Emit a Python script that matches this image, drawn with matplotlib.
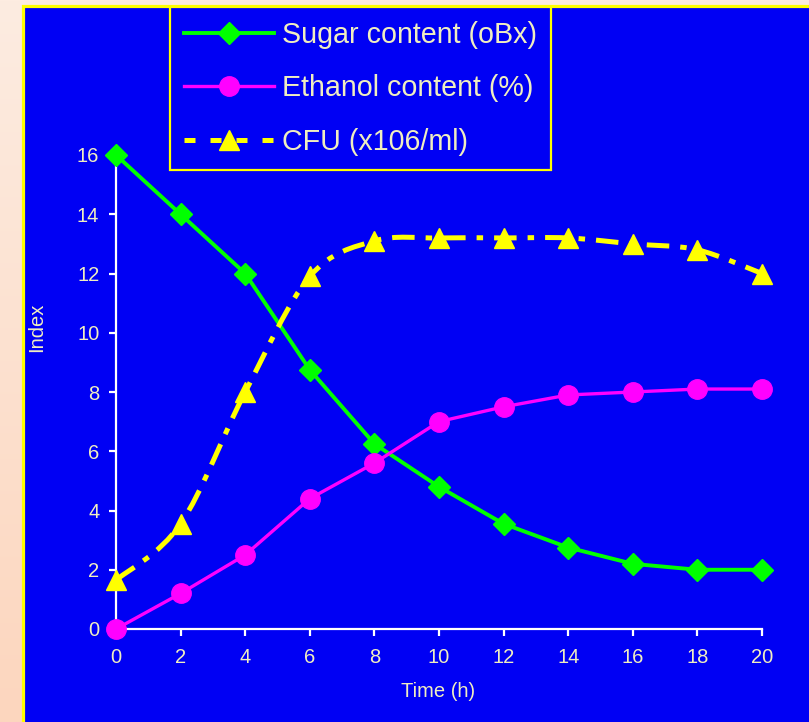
import numpy as np
import matplotlib
matplotlib.use("Agg")
import matplotlib.pyplot as plt
from matplotlib.path import Path
from matplotlib.patches import PathPatch, Rectangle
from matplotlib.lines import Line2D

# ---- data ----
time_h = [0, 2, 4, 6, 8, 10, 12, 14, 16, 18, 20]
sugar = [16, 14, 12, 8.75, 6.25, 4.8, 3.55, 2.75, 2.2, 2.0, 2.0]
ethanol = [0, 1.2, 2.5, 4.4, 5.6, 7.0, 7.5, 7.9, 8.0, 8.1, 8.1]
cfu = [1.65, 3.55, 8.0, 11.9, 13.1, 13.2, 13.2, 13.2, 13.0, 12.8, 12.0]
series_labels = ["Sugar content (oBx)", "Ethanol content (%)", "CFU (x106/ml)"]
x_ticks = [0, 2, 4, 6, 8, 10, 12, 14, 16, 18, 20]
y_ticks = [0, 2, 4, 6, 8, 10, 12, 14, 16]
x_label = "Time (h)"
y_label = "Index"

# ---- style ----
W, H = 809, 722
BLUE = "#0000F4"
YELLOW = "#FFFF00"
GREEN = "#00FF00"
MAGENTA = "#FF00FF"
TXT = "#F0EEC0"
FONT = "Liberation Sans"
plt.rcParams["font.family"] = [FONT, "DejaVu Sans"]

fig = plt.figure(figsize=(W / 100, H / 100), dpi=100)

# peach gradient background
bg = fig.add_axes([0, 0, 1, 1], zorder=-10)
grad = np.linspace(0, 1, 256).reshape(-1, 1)
top = np.array([253, 236, 225]) / 255
bot = np.array([252, 214, 190]) / 255
img = top[None, None, :] * (1 - grad[:, :, None]) + bot[None, None, :] * grad[:, :, None]
bg.imshow(img, aspect="auto", extent=[0, 1, 0, 1], origin="upper")
bg.set_axis_off()

# blue panel with yellow border
panel = Rectangle((22.5 / W, -0.1), 1.2, 1 - 5.5 / H + 0.1, transform=fig.transFigure,
                  facecolor=BLUE, edgecolor=YELLOW, linewidth=2.3, zorder=-5)
fig.patches.append(panel)

ax = fig.add_axes([116 / W, 1 - 629 / H, (762 - 116) / W, (629 - 155) / H])
ax.set_facecolor("none")
ax.set_xlim(0, 20)
ax.set_ylim(0, 16)

ax.plot(time_h, sugar, color=GREEN, lw=2.8, marker="D", ms=11, mec=GREEN, mfc=GREEN, zorder=3)
ax.plot(time_h, ethanol, color=MAGENTA, lw=2.4, marker="o", ms=14, mec=MAGENTA, mfc=MAGENTA, zorder=3)

# smoothed dashed CFU curve (Catmull-Rom -> cubic Bezier)
xs = np.array(time_h, float)
ys = np.array(cfu, float)
verts = [(xs[0], ys[0])]
codes = [Path.MOVETO]
n = len(xs)
for i in range(n - 1):
    p0 = np.array([xs[max(i - 1, 0)], ys[max(i - 1, 0)]])
    p1 = np.array([xs[i], ys[i]])
    p2 = np.array([xs[i + 1], ys[i + 1]])
    p3 = np.array([xs[min(i + 2, n - 1)], ys[min(i + 2, n - 1)]])
    c1 = p1 + (p2 - p0) / 6.0
    c2 = p2 - (p3 - p1) / 6.0
    verts += [tuple(c1), tuple(c2), tuple(p2)]
    codes += [Path.CURVE4] * 3
cfu_ls = (0, (4.5, 2.2, 1.3, 2.2))
patch = PathPatch(Path(verts, codes), facecolor="none", edgecolor=YELLOW, lw=3.6,
                  linestyle=cfu_ls, capstyle="butt", zorder=4)
ax.add_patch(patch)
ax.plot(time_h, cfu, linestyle="none", marker="^", ms=15, color=YELLOW, zorder=5, clip_on=False)

for a in (ax.lines):
    a.set_clip_on(False)

# axes styling
for s in ("top", "right"):
    ax.spines[s].set_visible(False)
for s in ("left", "bottom"):
    ax.spines[s].set_color("white")
    ax.spines[s].set_linewidth(1.6)
ax.set_xticks(x_ticks)
ax.set_yticks(y_ticks)
ax.tick_params(axis="both", colors="white", labelcolor=TXT, labelsize=14.5,
               length=5, width=1.6, direction="out")
ax.tick_params(axis="x", pad=9)
ax.tick_params(axis="y", pad=7)
ax.set_xlabel(x_label, color=TXT, fontsize=14.5)
ax.set_ylabel(y_label, color=TXT, fontsize=14.5)
ax.xaxis.set_label_coords((438 - 116) / (762 - 116), -(682 - 629) / (629 - 155))
ax.yaxis.set_label_coords(-(116 - 46) / (762 - 116), (629 - 327) / (629 - 155))

# legend
handles = [
    Line2D([], [], color=GREEN, lw=2.8, marker="D", ms=11),
    Line2D([], [], color=MAGENTA, lw=2.4, marker="o", ms=14),
    Line2D([], [], color=YELLOW, lw=3.6, marker="^", ms=14, linestyle=(0, (2.2, 3.0)),
           dash_capstyle="butt"),
]
leg = fig.legend(handles, series_labels, loc="upper left",
                 bbox_to_anchor=(170 / W, 1 - 7 / H), bbox_transform=fig.transFigure,
                 fontsize=20.6, frameon=True, fancybox=False, borderaxespad=0,
                 handlelength=3.15, handletextpad=0.28, labelspacing=0.9,
                 borderpad=0.48, facecolor=BLUE, edgecolor=YELLOW, framealpha=1)
leg.get_frame().set_linewidth(1.6)
for t in leg.get_texts():
    t.set_color(TXT)

fig.savefig("out.png", dpi=100)
